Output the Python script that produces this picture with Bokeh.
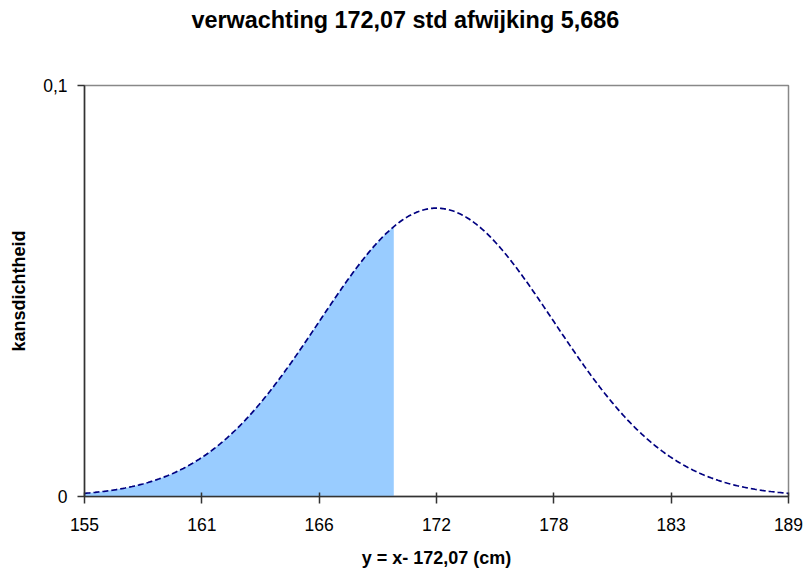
import numpy as np
from bokeh.plotting import figure
from bokeh.models import Range1d, FixedTicker, Title
from bokeh.embed import file_html
from bokeh.resources import INLINE

# Chart parameters (as stated in the title)
MU = 172.07
SIGMA = 5.686
SHADE_END = 170.0
title_text = "verwachting 172,07 std afwijking 5,686"
x_label = "y = x- 172,07 (cm)"
y_label = "kansdichtheid"
x_tick_sigmas = [-3, -2, -1, 0, 1, 2, 3]
x_tick_labels = ["155", "161", "166", "172", "178", "183", "189"]
y_ticks = [0, 0.1]
y_tick_labels = ["0", "0,1"]

x_min = MU - 3 * SIGMA
x_max = MU + 3 * SIGMA

xs = np.linspace(x_min, x_max, 400)
pdf = np.exp(-0.5 * ((xs - MU) / SIGMA) ** 2) / (SIGMA * np.sqrt(2 * np.pi))
mask = xs <= SHADE_END
xs_fill = np.append(xs[mask], SHADE_END)
pdf_fill = np.append(pdf[mask], np.exp(-0.5 * ((SHADE_END - MU) / SIGMA) ** 2) / (SIGMA * np.sqrt(2 * np.pi)))

FONT = "Liberation Sans"

p = figure(width=804, height=570, output_backend="svg", toolbar_location=None,
           x_range=Range1d(x_min, x_max), y_range=Range1d(0, 0.1),
           min_border_left=84, min_border_right=16, min_border_top=85, min_border_bottom=74)
p.title = None
spacer = Title(text=" ", text_font=FONT, text_font_size="10px")
spacer.standoff = 40
p.add_layout(spacer, "above")
t = Title(text=title_text, align="left", offset=107, text_font=FONT,
          text_font_size="23.4px", text_font_style="bold", text_color="black")
t.standoff = 0
p.add_layout(t, "above")

p.varea(x=xs_fill, y1=0, y2=pdf_fill, fill_color="#99CCFF", fill_alpha=1.0)
p.line(xs, pdf, line_color="#000080", line_width=1.7, line_dash="6 3")

p.xgrid.visible = False
p.ygrid.visible = False
p.outline_line_color = "#888888"
p.outline_line_width = 1.5

tick_pos = [MU + k * SIGMA for k in x_tick_sigmas]
p.xaxis.ticker = FixedTicker(ticks=tick_pos)
p.xaxis.major_label_overrides = {v: s for v, s in zip(tick_pos, x_tick_labels)}
p.yaxis.ticker = FixedTicker(ticks=y_ticks)
p.yaxis.major_label_overrides = {v: s for v, s in zip(y_ticks, y_tick_labels)}

for ax in (p.xaxis[0], p.yaxis[0]):
    ax.axis_line_color = "#333333"
    ax.axis_line_width = 1.5
    ax.major_tick_line_color = "#333333"
    ax.major_tick_line_width = 1.5
    ax.minor_tick_line_color = None
    ax.major_tick_out = 7
    ax.major_label_text_font = FONT
    ax.major_label_text_font_size = "17.5px"
    ax.major_label_text_color = "black"
    ax.axis_label_text_font = FONT
    ax.axis_label_text_font_size = "18px"
    ax.axis_label_text_font_style = "bold"
    ax.axis_label_text_color = "black"

p.xaxis.major_tick_in = 4
p.yaxis.major_tick_in = 0
p.xaxis.axis_label = x_label
p.yaxis.axis_label = y_label
p.xaxis.major_label_standoff = 14
p.xaxis.axis_label_standoff = 14
p.yaxis.major_label_standoff = 10
p.yaxis.axis_label_standoff = 11

open("out.html", "w").write(file_html(p, INLINE))
